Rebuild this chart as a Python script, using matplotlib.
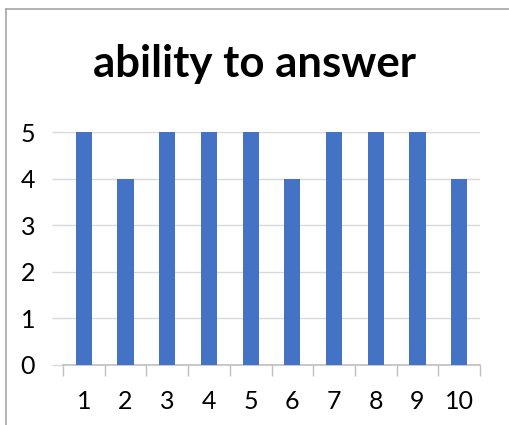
import matplotlib
matplotlib.use("Agg")
import matplotlib.pyplot as plt
from matplotlib.lines import Line2D

categories = ["1", "2", "3", "4", "5", "6", "7", "8", "9", "10"]
values = [5, 4, 5, 5, 5, 4, 5, 5, 5, 4]
y_ticks = [0, 1, 2, 3, 4, 5]
title = "ability to answer"

W, H = 509, 425
fig = plt.figure(figsize=(W / 100, H / 100), dpi=100)
fig.patch.set_facecolor("white")

# chart frame (left and top edges visible)
border = "#a6a6a6"
fig.add_artist(Line2D([6 / W, 6 / W], [0, 1 - 9 / H], color=border, lw=1.2))
fig.add_artist(Line2D([6 / W, 1], [1 - 9 / H, 1 - 9 / H], color=border, lw=1.2))

left, right = 63 / W, 480 / W
bottom, top = 1 - 365 / H, 1 - 132 / H
ax = fig.add_axes([left, bottom, right - left, top - bottom])

x = list(range(1, len(categories) + 1))
ax.bar(x, values, width=0.39, color="#4472C4", zorder=3)

ax.set_xlim(0.5, len(categories) + 0.5)
ax.set_ylim(0, 5)
ax.set_yticks(y_ticks)
ax.set_yticklabels([str(t) for t in y_ticks])
ax.set_xticks(x)
ax.set_xticklabels(categories)
ax.set_xticks([i + 0.5 for i in range(len(categories) + 1)], minor=True)

grid_c = "#d9d9d9"
ax.yaxis.grid(True, color=grid_c, lw=1, zorder=0)
for s in ["top", "right", "left"]:
    ax.spines[s].set_visible(False)
ax.spines["bottom"].set_color("#bfbfbf")
ax.spines["bottom"].set_linewidth(1.2)

font = "Lato"
ax.tick_params(axis="y", length=8, width=1, color=grid_c, pad=12,
               labelsize=18)
ax.tick_params(axis="x", which="major", length=0, pad=18, labelsize=18)
ax.tick_params(axis="x", which="minor", length=8, width=1, color="#bfbfbf")
for lab in ax.get_xticklabels() + ax.get_yticklabels():
    lab.set_fontfamily(font)

fig.text(0.5, 1 - 64 / H, title, ha="center", va="center",
         fontsize=31.5, fontweight="bold", fontfamily=font)

fig.savefig("out.png", dpi=100)
